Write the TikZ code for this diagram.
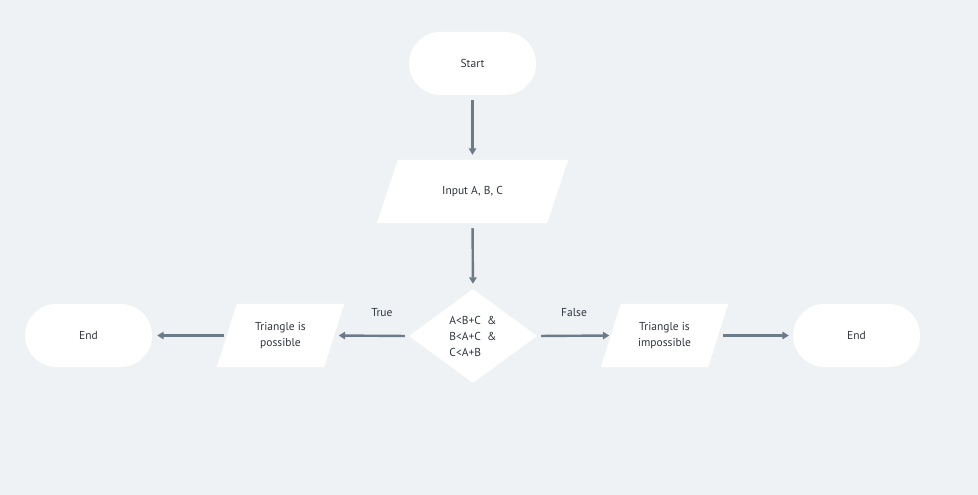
\documentclass[tikz,border=0pt]{standalone}
\usepackage{fontspec}
\setmainfont{PT Sans}
\usetikzlibrary{shapes.misc,shapes.geometric,arrows.meta,backgrounds}
\definecolor{canvas}{HTML}{EFF2F5}
\definecolor{flow}{HTML}{6D7A88}
\definecolor{ink}{HTML}{2E353F}
\tikzset{
  base/.style={inner sep=0pt, text=ink, font=\fontsize{11.5}{16}\selectfont, align=center},
  terminal/.style={base, rounded rectangle, fill=white, minimum width=127pt, minimum height=63pt},
  iobox/.style={base, rectangle, minimum height=63pt},
  decision/.style={base, diamond, fill=white, minimum width=128pt, minimum height=94pt, aspect=1.36, align=left},
  flowarrow/.style={draw=flow, line width=2.4pt, -{Triangle[length=6.5pt,width=7.5pt]}},
  branch/.style={text=ink, font=\fontsize{11.5}{14}\selectfont}
}
% fills a parallelogram behind an iobox node
\newcommand{\slantfill}[2]{%
  \begin{scope}[on background layer]
    \fill[white] ([xshift=#2]#1.north west) -- ([xshift=#2]#1.north east)
      -- ([xshift=-#2]#1.south east) -- ([xshift=-#2]#1.south west) -- cycle;
  \end{scope}}
\begin{document}
\begin{tikzpicture}[x=1pt,y=-1pt]
  \begin{scope}[on background layer]
    \fill[canvas] (0,0) rectangle (978,495);
  \end{scope}
  \useasboundingbox (0,0) rectangle (978,495);

  \node[terminal] (start) at (472.5,63.5) {Start};
  \node[iobox, minimum width=170pt] (input) at (472.5,191.5) {Input A, B, C};
  \node[decision] (test) at (473,336) {A<B+C\ \ \&\\B<A+C\ \ \&\\C<A+B};
  \node[iobox, minimum width=107pt] (yes) at (280.5,335.5) {Triangle is\\possible};
  \node[iobox, minimum width=107pt] (no) at (664.5,335.5) {Triangle is\\impossible};
  \node[terminal] (endl) at (88.5,335.5) {End};
  \node[terminal] (endr) at (856.5,335.5) {End};

  \slantfill{input}{10.5pt}
  \slantfill{yes}{10pt}
  \slantfill{no}{10pt}

  \draw[flowarrow, shorten <=5pt, shorten >=5pt] (start.south) -- (input.north);
  \draw[flowarrow, shorten <=5pt, shorten >=5pt] (input.south) -- (test.north);
  \draw[flowarrow, shorten <=4pt, shorten >=4.5pt] (test.west) -- (yes.east)
    node[branch, pos=0.36, above=15pt] (truelbl) {True};
  \draw[flowarrow, shorten <=2.5pt, shorten >=5pt] (yes.west) -- (endl.east);
  \draw[flowarrow, shorten <=4pt, shorten >=1.5pt] (test.east) -- (no.west)
    node[branch, pos=0.5, above=15pt] (falselbl) {False};
  \draw[flowarrow, shorten <=4.5pt, shorten >=4pt] (no.east) -- (endr.west);
\end{tikzpicture}
\end{document}
